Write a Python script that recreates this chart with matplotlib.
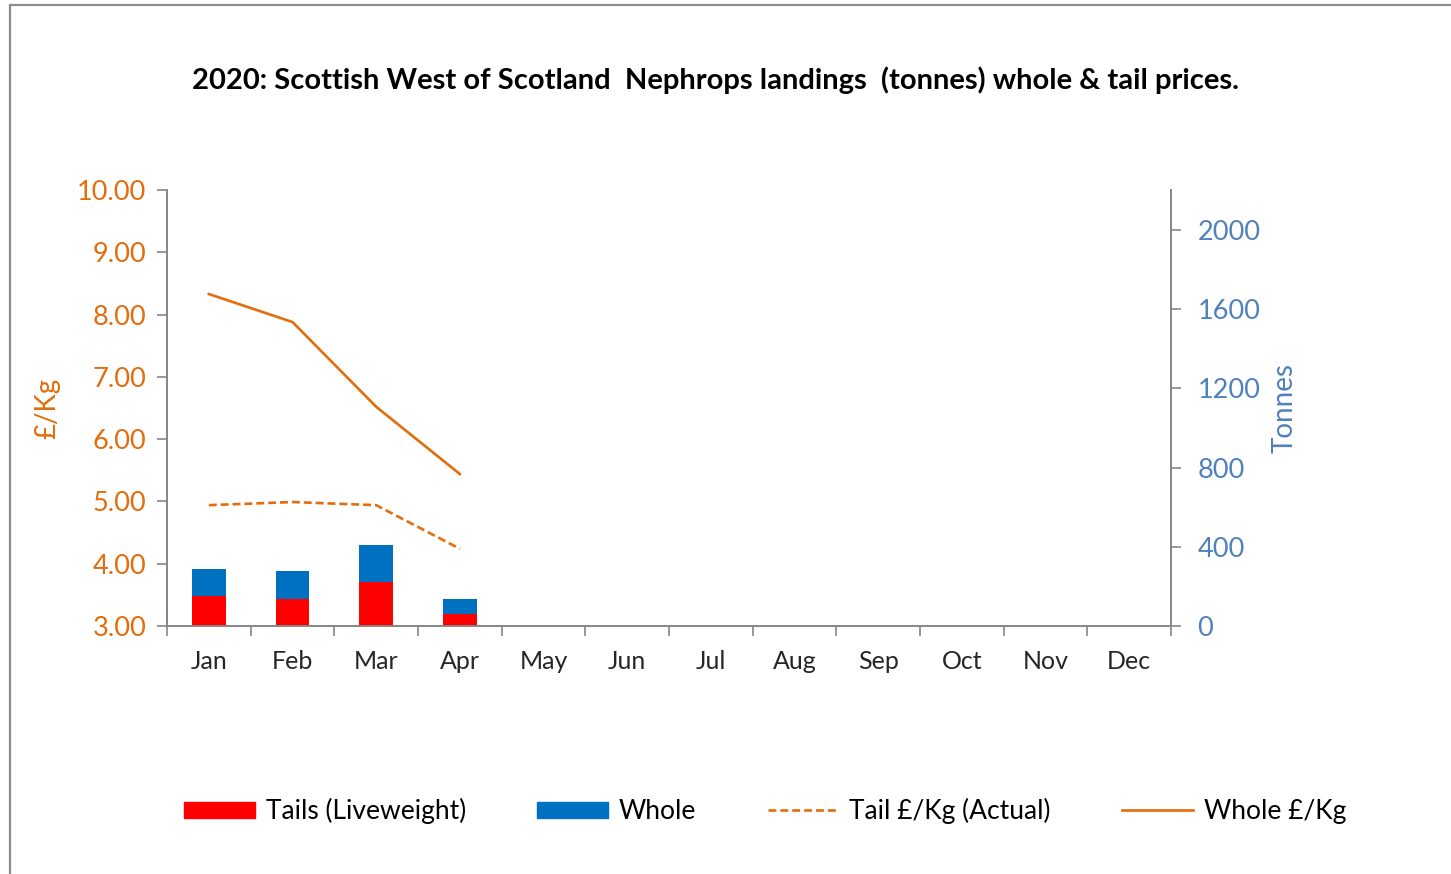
import numpy as np
import matplotlib
matplotlib.use("Agg")
import matplotlib.pyplot as plt
from matplotlib.patches import Rectangle
from matplotlib.lines import Line2D
from matplotlib.patches import Patch

plt.rcParams['font.family'] = ['Lato', 'DejaVu Sans']

# data
months = ['Jan', 'Feb', 'Mar', 'Apr', 'May', 'Jun', 'Jul', 'Aug', 'Sep', 'Oct', 'Nov', 'Dec']
tails_t = [151, 138, 222, 61]        # tonnes, liveweight
whole_t = [135, 141, 187, 77]        # tonnes
tail_price = [4.94, 4.99, 4.94, 4.24]
whole_price = [8.33, 7.88, 6.52, 5.44]

orange = '#E46C0A'
blue_txt = '#4F81BD'
grey = '#868686'

fig = plt.figure(figsize=(14.51, 8.74), dpi=100)
ax = fig.add_axes([167/1451, 1-626/874, (1171-167)/1451, (626-190)/874])
ax2 = ax.twinx()

x = np.arange(len(tails_t))
ax2.bar(x, tails_t, width=0.4, color='#FF0000', zorder=2)
ax2.bar(x, whole_t, width=0.4, bottom=tails_t, color='#0070C0', zorder=2)

ax.plot(x, whole_price, color=orange, lw=1.9, zorder=3)
ax.plot(x, tail_price, color=orange, lw=1.9, ls=(0, (3, 1.5)), zorder=3)
ax.set_zorder(ax2.get_zorder() + 1)
ax.patch.set_visible(False)

ax.set_xlim(-0.5, 11.5)
ax.set_ylim(3, 10)
ax2.set_ylim(0, 2202)

ax.set_yticks(np.arange(3, 10.01, 1))
ax.set_yticklabels([f'{v:.2f}' for v in np.arange(3, 10.01, 1)])
ax2.set_yticks(np.arange(0, 2001, 400))

ax.set_xticks(np.arange(-0.5, 12, 1))
ax.set_xticklabels([])
ax.set_xticks(np.arange(12), minor=True)
ax.set_xticklabels(months, minor=True)
ax.tick_params(axis='x', which='major', length=7, color=grey, width=1.2)
ax.tick_params(axis='x', which='minor', length=0, pad=17, labelsize=18, labelcolor='#262626')
ax.tick_params(axis='y', length=7, color=grey, width=1.2, labelsize=19.5, labelcolor=orange, pad=8)
ax2.tick_params(axis='y', length=7, color=grey, width=1.2, labelsize=19.5, labelcolor=blue_txt, pad=12)

for a in (ax, ax2):
    for s in a.spines.values():
        s.set_color(grey)
        s.set_linewidth(1.2)
    a.spines['top'].set_visible(False)

ax.set_ylabel('£/Kg', color=orange, fontsize=20, labelpad=12)
ax2.set_ylabel('Tonnes', color=blue_txt, fontsize=20, labelpad=8)

fig.text(715/1451, 1-80/874, '2020: Scottish West of Scotland  Nephrops landings  (tonnes) whole & tail prices.',
         ha='center', va='center', fontsize=21, fontweight='bold')

# outer chart border, cropped on the right and bottom
fig.patches.append(Rectangle((10/1451, -0.1), 1.2, 1.1 - 5/874, transform=fig.transFigure,
                             fill=False, edgecolor='#8c8c8c', lw=1.6))

handles = [Patch(color='#FF0000'), Patch(color='#0070C0'),
           Line2D([], [], color=orange, lw=1.9, ls=(0, (3, 1.5))),
           Line2D([], [], color=orange, lw=1.9)]
labels = ['Tails (Liveweight)', 'Whole', 'Tail £/Kg (Actual)', 'Whole £/Kg']
fig.legend(handles, labels, ncol=4, loc='center', bbox_to_anchor=(765/1451, 1-811/874),
           frameon=False, fontsize=19, handlelength=2.7, handleheight=0.55,
           columnspacing=2.7, handletextpad=0.4)

fig.savefig('out.png', dpi=100)
